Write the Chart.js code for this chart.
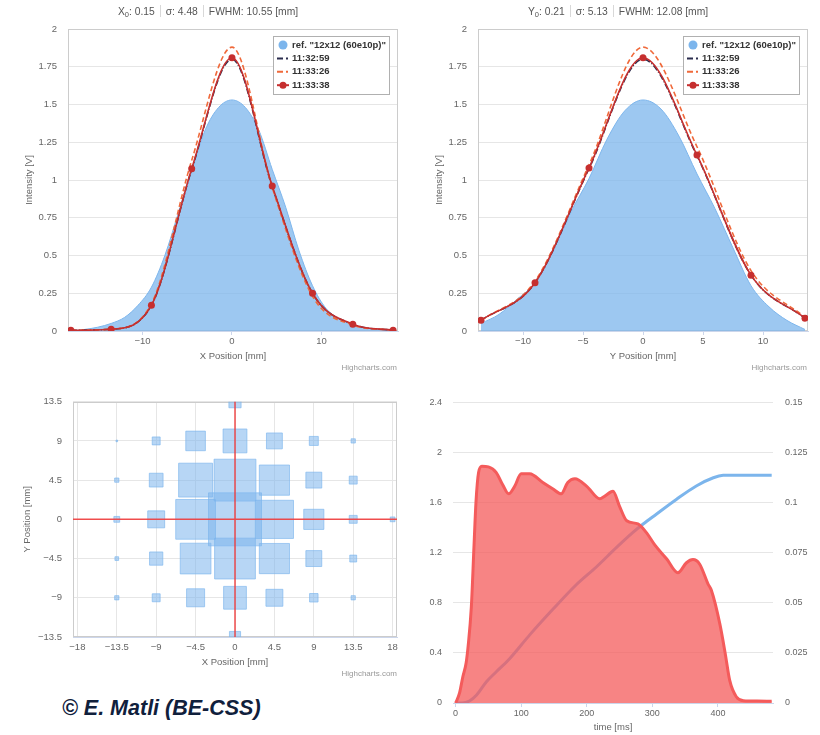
<!DOCTYPE html>
<html><head><meta charset="utf-8">
<script src="https://cdn.jsdelivr.net/npm/chart.js@4/dist/chart.umd.min.js"></script>
<style>
body{margin:0;width:820px;height:735px;background:#fff;position:relative;overflow:hidden;font-family:"Liberation Sans",Arial,sans-serif}
canvas{position:absolute}
.title{position:absolute;top:4px;width:416px;text-align:center;font-size:10.3px;color:#555;line-height:16px;white-space:nowrap}
.title sub{font-size:7.5px;vertical-align:-2px;line-height:0}
.sep{display:inline-block;width:0;height:12px;border-left:1px solid #d8d8d8;margin:0 5px;vertical-align:-2px}
.credit{position:absolute;font-size:8px;color:#999;line-height:10px;white-space:nowrap}
.copy{position:absolute;left:62px;top:696px;font:italic bold 21.5px "Liberation Sans",Arial,sans-serif;color:#10203c;line-height:24px;white-space:nowrap}
</style></head><body>
<canvas id="c1" width="410" height="378" style="left:0;top:0"></canvas>
<canvas id="c2" width="410" height="378" style="left:410px;top:0"></canvas>
<canvas id="c3" width="410" height="300" style="left:0;top:385px"></canvas>
<canvas id="c4" width="410" height="350" style="left:410px;top:385px"></canvas>
<div class="title" style="left:0">X<sub>0</sub>: 0.15<span class="sep"></span>σ: 4.48<span class="sep"></span>FWHM: 10.55 [mm]</div>
<div class="title" style="left:410px">Y<sub>0</sub>: 0.21<span class="sep"></span>σ: 5.13<span class="sep"></span>FWHM: 12.08 [mm]</div>
<div class="credit" style="right:423px;top:363px">Highcharts.com</div>
<div class="credit" style="right:13px;top:363px">Highcharts.com</div>
<div class="credit" style="right:423px;top:669px">Highcharts.com</div>
<div class="copy">© E. Matli (BE-CSS)</div>
<script>
// ---------- Data: horizontal (X) profile ----------
const xProfPos = [-18, -13.5, -9, -4.5, 0, 4.5, 9, 13.5, 18];
const xProf_113259 = [0.005, 0.012, 0.17, 1.07, 1.80, 0.955, 0.25, 0.045, 0.005];
const xProf_113326 = [0.005, 0.012, 0.18, 1.13, 1.88, 0.95, 0.23, 0.04, 0.005];
const xProf_113338 = [0.005, 0.012, 0.17, 1.075, 1.81, 0.96, 0.25, 0.045, 0.005];
const xRefPos = [-18, -16.5, -15, -13.5, -12, -10.5, -9, -7.5, -6, -4.5, -3, -1.5, 0, 1.5, 3, 4.5, 6, 7.5, 9, 10.5, 12, 13.5, 15, 16.5, 18];
const xRefVal = [0, 0.01, 0.025, 0.05, 0.09, 0.17, 0.29, 0.50, 0.78, 1.06, 1.33, 1.48, 1.53, 1.48, 1.33, 1.07, 0.82, 0.53, 0.30, 0.15, 0.08, 0.04, 0.02, 0.01, 0];

// ---------- Data: vertical (Y) profile ----------
const yProfPos = [-13.5, -9, -4.5, 0, 4.5, 9, 13.5];
const yProf_113259 = [0.07, 0.32, 1.075, 1.80, 1.16, 0.37, 0.085];
const yProf_113326 = [0.07, 0.33, 1.10, 1.88, 1.22, 0.40, 0.09];
const yProf_113338 = [0.071, 0.32, 1.08, 1.81, 1.165, 0.37, 0.085];
const yRefPos = [-13.5, -12, -10.5, -9, -7.5, -6, -4.5, -3, -1.5, 0, 1.5, 3, 4.5, 6, 7.5, 9, 10.5, 12, 13.5];
const yRefVal = [0.05, 0.11, 0.21, 0.32, 0.53, 0.79, 1.01, 1.27, 1.46, 1.53, 1.47, 1.29, 1.04, 0.81, 0.55, 0.30, 0.16, 0.07, 0.01];

// ---------- Data: 2D grid (relative intensity per wire crossing) ----------
const gridX = [-18, -13.5, -9, -4.5, 0, 4.5, 9, 13.5, 18];
const gridY = [13.5, 9, 4.5, 0, -4.5, -9, -13.5];
const gridVal = [
  [0, 0,    0,    0,    0.23, 0,    0,    0,    0   ],
  [0, 0.03, 0.15, 0.37, 0.45, 0.30, 0.17, 0.08, 0   ],
  [0, 0.08, 0.26, 0.64, 0.79, 0.57, 0.30, 0.15, 0   ],
  [0, 0.11, 0.32, 0.75, 1.00, 0.72, 0.38, 0.15, 0.09],
  [0, 0.07, 0.25, 0.58, 0.77, 0.57, 0.30, 0.13, 0   ],
  [0, 0.08, 0.15, 0.34, 0.43, 0.32, 0.16, 0.08, 0   ],
  [0, 0,    0,    0,    0.21, 0,    0,    0,    0   ]
];

// ---------- Data: time traces ----------
const tSignal = [0, 6, 11, 16, 19, 24, 28, 31, 35, 40, 50, 62, 72, 81, 90, 100, 113, 133, 148, 161, 171, 182, 200, 220, 227, 240, 250, 261, 278, 291, 304, 322, 339, 352, 362, 372, 385, 390, 403, 411, 418, 428, 439, 460, 482];
const vSignal = [0, 0.08, 0.21, 0.32, 0.45, 0.77, 1.25, 1.60, 1.84, 1.89, 1.885, 1.84, 1.74, 1.67, 1.73, 1.83, 1.83, 1.76, 1.71, 1.67, 1.76, 1.79, 1.73, 1.63, 1.65, 1.69, 1.57, 1.455, 1.43, 1.36, 1.26, 1.15, 1.04, 1.12, 1.145, 1.11, 0.95, 0.90, 0.63, 0.40, 0.18, 0.05, 0.018, 0.015, 0.014];
const tIntegral = [0, 10, 21, 32, 47, 62, 82, 113, 149, 184, 215, 245, 270, 286, 306, 337, 367, 393, 408, 430, 482];
const vIntegral = [0, 0, 0.001, 0.004, 0.0106, 0.0156, 0.022, 0.034, 0.047, 0.059, 0.068, 0.0775, 0.085, 0.0893, 0.0942, 0.1017, 0.1083, 0.1124, 0.1136, 0.1137, 0.1137];

const timeTicks = [0, 100, 200, 300, 400];

// ---------- helpers ----------
const xy = (xs, ys) => xs.map((x, i) => ({x: x, y: ys[i]}));
const fmt = v => (Math.round(v * 1000) / 1000).toString().replace('-', '\u2212');
const FONT = '"Liberation Sans", Arial, sans-serif';
Chart.defaults.font.family = FONT;
Chart.defaults.font.size = 9.5;
Chart.defaults.color = '#666';
Chart.defaults.animation = false;

const C_REF = '#7cb5ec', C_DARK = '#2b2d4e', C_ORANGE = '#f0693a', C_RED = '#c62f2f';

const plotBorder = {
  id: 'plotBorder',
  beforeDatasetsDraw(chart) {
    const a = chart.chartArea, c = chart.ctx;
    c.save(); c.strokeStyle = '#cccccc'; c.lineWidth = 1;
    c.strokeRect(Math.round(a.left) + 0.5, Math.round(a.top) + 0.5, Math.round(a.right - a.left) - 1, Math.round(a.bottom - a.top) - 1);
    c.restore();
  }
};

const legendBox = {
  id: 'legendBox',
  afterDraw(chart) {
    const c = chart.ctx, a = chart.chartArea;
    const w = 116, h = 58, x = Math.round(a.right - 9 - w), y = Math.round(a.top + 7);
    c.save();
    c.fillStyle = '#fff'; c.fillRect(x, y, w, h);
    c.strokeStyle = '#b0b0b0'; c.lineWidth = 1; c.strokeRect(x + 0.5, y + 0.5, w, h);
    c.textBaseline = 'middle';
    chart.data.datasets.forEach((ds, i) => {
      const cy = y + 9 + i * 13.4, cx = x + 10;
      if (ds.fill) {
        c.fillStyle = ds.borderColor; c.beginPath(); c.arc(cx, cy, 4.5, 0, Math.PI * 2); c.fill();
      } else {
        c.strokeStyle = ds.borderColor; c.lineWidth = 2; c.setLineDash(ds.legendDash || []);
        c.beginPath(); c.moveTo(cx - 6, cy); c.lineTo(cx + 6, cy); c.stroke(); c.setLineDash([]);
        if (ds.pointRadius) { c.fillStyle = ds.borderColor; c.beginPath(); c.arc(cx, cy, 3.5, 0, Math.PI * 2); c.fill(); }
      }
      c.fillStyle = '#333'; c.font = 'bold 9.5px ' + FONT;
      c.fillText(ds.label, x + 19, cy);
    });
    c.restore();
  }
};

const crossLines = {
  id: 'crossLines',
  afterDatasetsDraw(chart) {
    const c = chart.ctx, a = chart.chartArea, sx = chart.scales.x, sy = chart.scales.y;
    c.save(); c.strokeStyle = 'rgba(240,60,60,0.9)'; c.lineWidth = 1.5;
    const px = sx.getPixelForValue(0), py = sy.getPixelForValue(0);
    c.beginPath(); c.moveTo(px, a.top); c.lineTo(px, a.bottom); c.moveTo(a.left, py); c.lineTo(a.right, py); c.stroke();
    c.restore();
  }
};

function profileDatasets(refX, refY, px, d1, d2, d3) {
  const line = (label, data, color, extra) => Object.assign({
    label: label, data: xy(px, data), borderColor: color, backgroundColor: color,
    borderWidth: 1.6, pointRadius: 0, fill: false, cubicInterpolationMode: 'monotone'
  }, extra);
  return [
    {label: 'ref. "12x12 (60e10p)"', data: xy(refX, refY), borderColor: C_REF, backgroundColor: 'rgba(124,181,236,0.75)',
     borderWidth: 1, pointRadius: 0, fill: 'origin', cubicInterpolationMode: 'monotone', order: 4},
    line('11:32:59', d1, C_DARK, {borderDash: [6, 2, 1, 2], legendDash: [6, 3, 2, 3], order: 3}),
    line('11:33:26', d2, C_ORANGE, {borderDash: [5, 3], legendDash: [6, 3, 2, 3], order: 2}),
    line('11:33:38', d3, C_RED, {pointRadius: 3.5, pointBorderWidth: 0, pointBackgroundColor: C_RED, order: 1})
  ];
}

function profileOptions(min, max, ticks, xTitle) {
  return {
    responsive: false, animation: false,
    layout: {padding: {left: 0, right: 12, top: 29, bottom: 0}, autoPadding: false},
    plugins: {legend: {display: false}, tooltip: {enabled: false}},
    scales: {
      x: {type: 'linear', min: min, max: max,
          afterBuildTicks: s => { s.ticks = ticks.map(v => ({value: v})); },
          afterFit: s => { s.height = 47; },
          grid: {display: true, drawOnChartArea: false, drawTicks: true, tickLength: 4, tickColor: '#ccd6eb'},
          border: {display: true, color: '#ccd6eb'},
          ticks: {padding: 1, callback: fmt, maxRotation: 0},
          title: {display: true, text: xTitle, padding: {top: 0, bottom: 16}}},
      y: {min: 0, max: 2,
          ticks: {stepSize: 0.25, padding: 11, callback: fmt},
          afterFit: s => { s.width = 68; },
          grid: {color: '#e6e6e6', drawTicks: false},
          border: {display: false},
          title: {display: true, text: 'Intensity [V]', padding: {top: 24, bottom: 0}}}
    }
  };
}

new Chart(document.getElementById('c1'), {
  type: 'line',
  data: {datasets: profileDatasets(xRefPos, xRefVal, xProfPos, xProf_113259, xProf_113326, xProf_113338)},
  options: profileOptions(-18.32, 18.55, [-10, 0, 10], 'X Position [mm]'),
  plugins: [plotBorder, legendBox]
});

new Chart(document.getElementById('c2'), {
  type: 'line',
  data: {datasets: profileDatasets(yRefPos, yRefVal, yProfPos, yProf_113259, yProf_113326, yProf_113338)},
  options: profileOptions(-13.75, 13.75, [-10, -5, 0, 5, 10], 'Y Position [mm]'),
  plugins: [plotBorder, legendBox]
});

// 2D grid
const cells = [];
gridY.forEach((gy, r) => gridX.forEach((gx, c) => { if (gridVal[r][c] > 0) cells.push({x: gx, y: gy, v: gridVal[r][c]}); }));
const MAX_SIDE = 53;
new Chart(document.getElementById('c3'), {
  type: 'scatter',
  data: {datasets: [{
    data: cells, pointStyle: 'rect',
    pointRadius: ctx => ctx.raw ? ctx.raw.v * MAX_SIDE / Math.SQRT2 : 0,
    pointHoverRadius: ctx => ctx.raw ? ctx.raw.v * MAX_SIDE / Math.SQRT2 : 0,
    backgroundColor: 'rgba(124,181,236,0.55)', borderColor: 'rgba(124,181,236,0.65)', borderWidth: 1, clip: 0
  }]},
  options: {
    responsive: false, animation: false,
    layout: {padding: {left: 0, right: 13, top: 16, bottom: 0}, autoPadding: false},
    plugins: {legend: {display: false}, tooltip: {enabled: false}},
    scales: {
      x: {type: 'linear', min: -18.5, max: 18.5,
          afterBuildTicks: s => { s.ticks = gridX.map(v => ({value: v})); },
          afterFit: s => { s.height = 48; },
          grid: {color: '#e6e6e6', drawTicks: false},
          border: {display: true, color: '#ccd6eb'},
          ticks: {padding: 5, callback: fmt, maxRotation: 0, autoSkip: false},
          title: {display: true, text: 'X Position [mm]', padding: {top: 0, bottom: 17}}},
      y: {min: -13.5, max: 13.5,
          ticks: {stepSize: 4.5, padding: 11, callback: fmt},
          afterFit: s => { s.width = 73; },
          grid: {color: '#e6e6e6', drawTicks: false},
          border: {display: false},
          title: {display: true, text: 'Y Position [mm]', padding: {top: 22, bottom: 0}}}
    }
  },
  plugins: [plotBorder, crossLines]
});

// time traces
new Chart(document.getElementById('c4'), {
  type: 'line',
  data: {datasets: [
    {label: 'signal', data: xy(tSignal, vSignal), yAxisID: 'y', borderColor: '#f45b5b', backgroundColor: 'rgba(244,91,91,0.75)',
     borderWidth: 3, pointRadius: 0, fill: 'origin', cubicInterpolationMode: 'monotone', order: 1},
    {label: 'integral', data: xy(tIntegral, vIntegral), yAxisID: 'y1', borderColor: '#7cb5ec',
     borderWidth: 3, pointRadius: 0, fill: false, cubicInterpolationMode: 'monotone', order: 2}
  ]},
  options: {
    responsive: false, animation: false,
    layout: {padding: {left: 0, right: 0, top: 16, bottom: 0}, autoPadding: false},
    plugins: {legend: {display: false}, tooltip: {enabled: false}},
    scales: {
      x: {type: 'linear', min: -4, max: 484,
          afterBuildTicks: s => { s.ticks = timeTicks.map(v => ({value: v})); },
          afterFit: s => { s.height = 32; },
          grid: {display: true, drawOnChartArea: false, drawTicks: true, tickLength: 4, tickColor: '#ccd6eb'},
          border: {display: true, color: '#ccd6eb'},
          ticks: {padding: 1, font: {size: 9}, maxRotation: 0},
          title: {display: true, text: 'time [ms]', font: {size: 9.5}, padding: {top: 0, bottom: 2}}},
      y: {position: 'left', min: 0, max: 2.4,
          ticks: {stepSize: 0.4, padding: 11, font: {size: 9}, callback: fmt},
          afterFit: s => { s.width = 43; },
          grid: {color: '#e6e6e6', drawTicks: false},
          border: {display: false}},
      y1: {position: 'right', min: 0, max: 0.15,
          ticks: {stepSize: 0.025, padding: 12, font: {size: 9}, callback: fmt},
          afterFit: s => { s.width = 47; },
          grid: {drawOnChartArea: false, drawTicks: false},
          border: {display: false}}
    }
  }
});
</script>
</body></html>
